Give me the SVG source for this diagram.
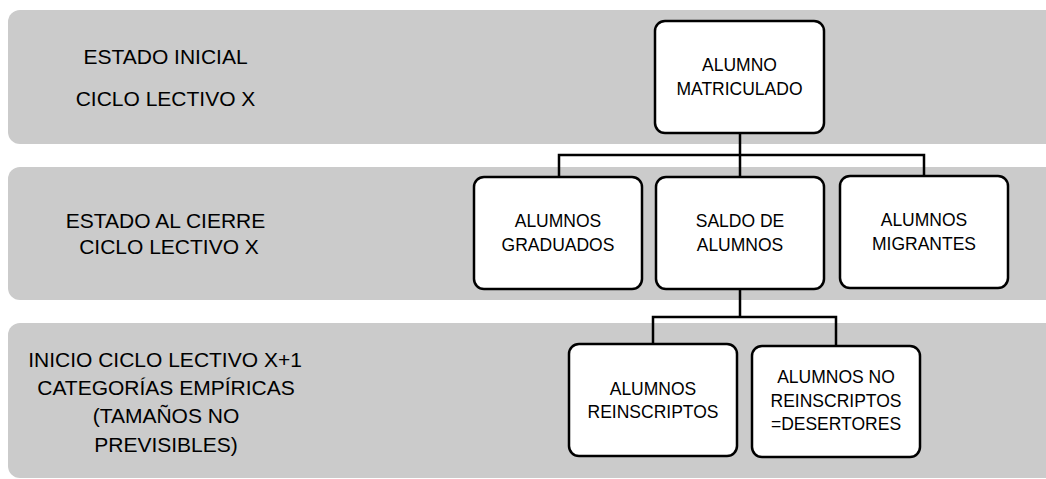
<svg xmlns="http://www.w3.org/2000/svg" width="1046" height="479" viewBox="0 0 1046 479">
  <style>
    .band { fill: #cbcbcb; }
    .band-label { font-family: "Liberation Sans", Arial, sans-serif; font-size: 21px; fill: #000; text-anchor: middle; }
    .node rect { fill: #fff; stroke: #000; stroke-width: 2.5; }
    .node text { font-family: "Liberation Sans", Arial, sans-serif; font-size: 17.5px; fill: #000; text-anchor: middle; }
    .link { fill: none; stroke: #000; stroke-width: 2.5; }
  </style>

  <!-- Background bands -->
  <g id="band-estado-inicial">
    <rect class="band" x="8" y="10" width="1060" height="134" rx="12"/>
    <text class="band-label" x="165.5" y="64">ESTADO INICIAL</text>
    <text class="band-label" x="165.5" y="106">CICLO LECTIVO X</text>
  </g>
  <g id="band-estado-cierre">
    <rect class="band" x="8" y="167" width="1060" height="133" rx="12"/>
    <text class="band-label" x="165.5" y="228">ESTADO AL CIERRE</text>
    <text class="band-label" x="169" y="254">CICLO LECTIVO X</text>
  </g>
  <g id="band-inicio-siguiente">
    <rect class="band" x="8" y="323" width="1060" height="155" rx="12"/>
    <text class="band-label" x="165" y="367">INICIO CICLO LECTIVO X+1</text>
    <text class="band-label" x="166" y="395">CATEGORÍAS EMPÍRICAS</text>
    <text class="band-label" x="166" y="423">(TAMAÑOS NO</text>
    <text class="band-label" x="166" y="452">PREVISIBLES)</text>
  </g>

  <!-- Connectors -->
  <g id="connectors">
    <path class="link" d="M740,133 V155 M559,178 V155 H924 V178 M740,155 V178"/>
    <path class="link" d="M740,289 V317 M653,344 V317 H836 V346"/>
  </g>

  <!-- Nodes -->
  <g id="alumno-matriculado" class="node">
    <rect x="655" y="21" width="169" height="112" rx="10"/>
    <text x="739.5" y="71">ALUMNO</text>
    <text x="739.5" y="95">MATRICULADO</text>
  </g>
  <g id="alumnos-graduados" class="node">
    <rect x="474" y="177" width="168" height="112" rx="10"/>
    <text x="558" y="227">ALUMNOS</text>
    <text x="558" y="251">GRADUADOS</text>
  </g>
  <g id="saldo-alumnos" class="node">
    <rect x="656" y="177" width="168" height="112" rx="10"/>
    <text x="740" y="227">SALDO DE</text>
    <text x="740" y="251">ALUMNOS</text>
  </g>
  <g id="alumnos-migrantes" class="node">
    <rect x="840" y="176" width="168" height="112" rx="10"/>
    <text x="924" y="226">ALUMNOS</text>
    <text x="924" y="250">MIGRANTES</text>
  </g>
  <g id="alumnos-reinscriptos" class="node">
    <rect x="569" y="344" width="168" height="112" rx="10"/>
    <text x="653" y="395">ALUMNOS</text>
    <text x="653" y="418">REINSCRIPTOS</text>
  </g>
  <g id="alumnos-no-reinscriptos" class="node">
    <rect x="752" y="346" width="168" height="111" rx="10"/>
    <text x="836" y="383">ALUMNOS NO</text>
    <text x="836" y="407">REINSCRIPTOS</text>
    <text x="836" y="430">=DESERTORES</text>
  </g>
</svg>
